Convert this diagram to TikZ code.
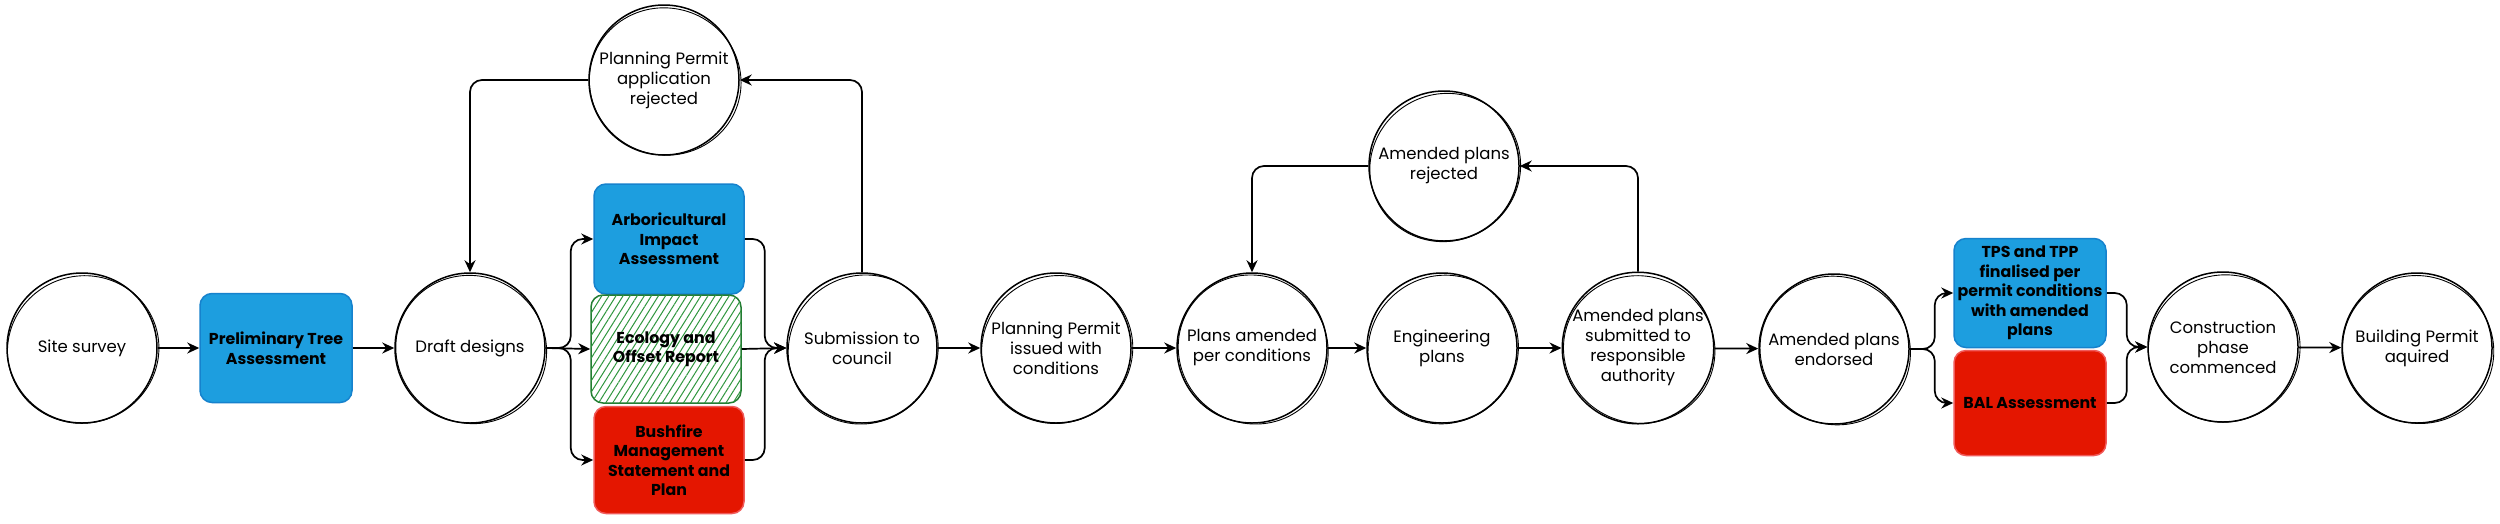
\documentclass[tikz,border=0pt]{standalone}
\usepackage{fontspec}
\setmainfont{Poppins}
\usetikzlibrary{arrows.meta,patterns.meta}
\definecolor{bluefill}{RGB}{29,158,223}
\definecolor{blueline}{RGB}{22,130,205}
\definecolor{redfill}{RGB}{228,22,0}
\definecolor{redline}{RGB}{240,90,90}
\definecolor{greenhatch}{RGB}{47,150,62}
\definecolor{greenline}{RGB}{35,125,50}
\begin{document}
\begin{tikzpicture}[x=1pt,y=-1pt,
  circ/.style={circle, draw=black, line width=1.5pt, minimum size=150pt, inner sep=0pt, align=center,
    font=\fontsize{16.5}{20}\selectfont},
  sketch/.style={line width=0.9pt, black},
  boxbase/.style={rectangle, rounded corners=12pt, line width=1.5pt, minimum width=150pt, minimum height=108pt,
    inner sep=0pt, align=center, font=\bfseries\fontsize{15.8}{19.5}\selectfont},
  bluebox/.style={boxbase, fill=bluefill, draw=blueline},
  redbox/.style={boxbase, fill=redfill, draw=redline},
  greenbox/.style={boxbase, fill=white, draw=greenline, postaction={pattern={Lines[angle=58,distance=6pt,line width=1pt]}, pattern color=greenhatch}},
  conn/.style={-{Stealth[length=12pt,width=11pt]}, line width=1.7pt, rounded corners=12pt}
]
\useasboundingbox (0,0) rectangle (2500,523);
\fill[white] (0,0) rectangle (2500,523);

% nodes
\node[circ] (ss) at (82,348) {Site survey};
\node[bluebox, minimum width=152pt, minimum height=109pt] (pta) at (276,348) {Preliminary Tree\\Assessment};
\node[circ] (dd) at (470,348) {Draft designs};
\node[bluebox, minimum height=110pt] (arb) at (669,239) {Arboricultural\\Impact\\Assessment};
\node[greenbox] (eco) at (666,349) {Ecology and\\Offset Report};
\node[redbox, minimum height=107pt] (bush) at (669,460) {Bushfire\\Management\\Statement and\\Plan};
\node[circ] (sub) at (862,348) {Submission to\\council};
\node[circ] (ppar) at (664,80) {Planning Permit\\application\\rejected};
\node[circ] (ppic) at (1056,348) {Planning Permit\\issued with\\conditions};
\node[circ] (pa) at (1252,348) {Plans amended\\per conditions};
\node[circ] (ep) at (1442,348) {Engineering\\plans};
\node[circ] (asub) at (1638,348) {Amended plans\\submitted to\\responsible\\authority};
\node[circ] (arej) at (1444,166) {Amended plans\\rejected};
\node[circ] (ae) at (1834,349) {Amended plans\\endorsed};
\node[bluebox, minimum width=152pt, minimum height=109pt] (tps) at (2030,293) {TPS and TPP\\finalised per\\permit conditions\\with amended\\plans};
\node[redbox, minimum width=152pt, minimum height=105pt] (bal) at (2030,403) {BAL Assessment};
\node[circ] (cpc) at (2223,347) {Construction\\phase\\commenced};
\node[circ] (bpa) at (2417,348) {Building Permit\\aquired};

% sketchy second outlines
\foreach \n/\a in {ss/20,dd/-30,sub/40,ppar/-15,ppic/25,pa/-40,ep/35,asub/-20,arej/30,ae/-35,cpc/15,bpa/-25}
  \draw[sketch] (\n.center) ++(1.2,1.5) ellipse [x radius=76, y radius=73.5, rotate=\a];

% connectors
\draw[conn] (ss) -- (pta);
\draw[conn] (pta) -- (dd);
\draw[conn] (dd.east) -- ++(25,0) |- (arb.west);
\draw[conn] (dd.east) -- (eco.west);
\draw[conn] (dd.east) -- ++(25,0) |- (bush.west);
\draw[conn] (arb.east) -- ++(20,0) |- (sub.west);
\draw[conn] (eco.east) -- (sub.west);
\draw[conn] (bush.east) -- ++(20,0) |- (sub.west);
\draw[conn] (sub.north) |- (ppar.east);
\draw[conn] (ppar.west) -| (dd.north);
\draw[conn] (sub) -- (ppic);
\draw[conn] (ppic) -- (pa);
\draw[conn] (pa) -- (ep);
\draw[conn] (ep) -- (asub);
\draw[conn] (asub.north) |- (arej.east);
\draw[conn] (arej.west) -| (pa.north);
\draw[conn] (asub) -- (ae);
\draw[conn] (ae.east) -- ++(25,0) |- (tps.west);
\draw[conn] (ae.east) -- ++(25,0) |- (bal.west);
\draw[conn] (tps.east) -- ++(20,0) |- (cpc.west);
\draw[conn] (bal.east) -- ++(20,0) |- (cpc.west);
\draw[conn] (cpc) -- (bpa);
\end{tikzpicture}
\end{document}
